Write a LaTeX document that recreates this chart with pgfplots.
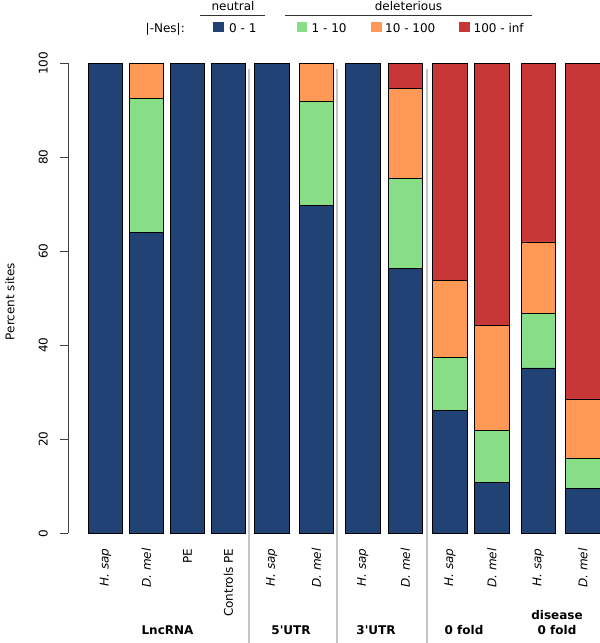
\documentclass[border=0pt]{standalone}
\usepackage{fontspec}
\setmainfont{DejaVu Sans}
\newfontfamily\nmfont{DejaVu Sans}
\usepackage{pgfplots}
\usepackage{pgfplotstable}
\pgfplotsset{compat=1.18}
\definecolor{cblue}{HTML}{204275}
\definecolor{cgreen}{HTML}{87DE87}
\definecolor{corange}{HTML}{FF9955}
\definecolor{cred}{HTML}{C83737}
\definecolor{sepgray}{HTML}{C4C4C4}
\newcommand{\fs}{\fontsize{12bp}{14bp}\selectfont}
\pgfplotstableread{
x blue green orange red
105.5 100 0 0 0
146.4 64.0 28.5 7.5 0
187.4 100 0 0 0
228.5 100 0 0 0
271.8 100 0 0 0
316.5 69.8 22.2 8.0 0
362.8 100 0 0 0
405.3 56.4 19.1 19.2 5.3
450.0 26.2 11.3 16.3 46.2
491.8 10.85 11.1 22.2 55.85
538.2 35.2 11.6 15.2 38.0
582.8 9.5 6.4 12.5 71.6
}\datatable
\begin{document}
\begin{tikzpicture}
\begin{axis}[
  scale only axis,
  width=532bp, height=470bp,
  xmin=68, xmax=600, ymin=0, ymax=100,
  enlargelimits=false,
  clip=false,
  ybar stacked, bar width=34.3,
  axis y line*=left,
  axis x line*=bottom,
  x axis line style={draw=none},
  y axis line style={black!75, line width=0.8bp},
  ytick={0,20,40,60,80,100},
  tick align=outside,
  ytick style={black!75, line width=0.8bp},
  major tick length=8bp,
  xtick style={draw=none},
  xtick={105.5,146.4,187.4,228.5,271.8,316.5,362.8,405.3,450.0,491.8,538.2,582.8},
  xticklabels={\textit{H. sap},\textit{D. mel},PE,Controls PE,\textit{H. sap},\textit{D. mel},\textit{H. sap},\textit{D. mel},\textit{H. sap},\textit{D. mel},\textit{H. sap},\textit{D. mel}},
  xticklabel style={rotate=90, anchor=east, inner sep=0pt, font=\fs},
  xticklabel shift=7bp,
  yticklabel style={rotate=90, anchor=south, inner sep=0pt, font=\fs},
  yticklabel shift=12bp,
  /pgf/number format/assume math mode=true,
  every axis plot/.append style={draw=black, line width=0.7bp},
]
\addplot[fill=cblue] table[x=x,y=blue]{\datatable};
\addplot[fill=cgreen] table[x=x,y=green]{\datatable};
\addplot[fill=corange] table[x=x,y=orange]{\datatable};
\addplot[fill=cred] table[x=x,y=red]{\datatable};
% separators
\draw[sepgray, line width=2bp] (axis cs:249,98.7) -- (axis cs:249,-23.34);
\draw[sepgray, line width=2bp] (axis cs:337,98.7) -- (axis cs:337,-23.34);
\draw[sepgray, line width=2bp] (axis cs:426.7,98.7) -- (axis cs:426.7,-23.34);
% y label
\node[rotate=90, font=\fs] at (axis cs:10,49.3) {Percent sites};
% group labels
\node[anchor=base, font=\fs\nmfont\bfseries] at (axis cs:167.5,-21.6) {LncRNA};
\node[anchor=base, font=\fs\nmfont\bfseries] at (axis cs:291,-21.6) {5'UTR};
\node[anchor=base, font=\fs\nmfont\bfseries] at (axis cs:376,-21.6) {3'UTR};
\node[anchor=base, font=\fs\nmfont\bfseries] at (axis cs:464,-21.6) {0 fold};
\node[anchor=base, font=\fs\nmfont\bfseries] at (axis cs:557,-18.4) {disease};
\node[anchor=base, font=\fs\nmfont\bfseries] at (axis cs:557,-21.6) {0 fold};
% legend
\node[anchor=base, font=\fs] at (axis cs:233,111.2) {neutral};
\node[anchor=base, font=\fs] at (axis cs:408.5,111.2) {deleterious};
\draw[black!80, line width=0.8bp] (axis cs:200,110.1) -- (axis cs:265,110.1);
\draw[black!80, line width=0.8bp] (axis cs:285.5,110.1) -- (axis cs:532,110.1);
\node[anchor=base east, inner sep=0pt, font=\fs] at (axis cs:185,106.66) {|-Nes|:};
\fill[cblue] (axis cs:213.3,106.66) rectangle (axis cs:224.3,108.87);
\node[anchor=base west, inner sep=0pt, font=\fs] at (axis cs:229,106.66) {0 - 1};
\fill[cgreen] (axis cs:296.6,106.66) rectangle (axis cs:307.3,108.87);
\node[anchor=base west, inner sep=0pt, font=\fs] at (axis cs:311.5,106.66) {1 - 10};
\fill[corange] (axis cs:371.2,106.66) rectangle (axis cs:382,108.87);
\node[anchor=base west, inner sep=0pt, font=\fs] at (axis cs:385,106.66) {10 - 100};
\fill[cred] (axis cs:459.2,106.66) rectangle (axis cs:470,108.87);
\node[anchor=base west, inner sep=0pt, font=\fs] at (axis cs:473.5,106.66) {100 - inf};
\coordinate (bbA) at (axis cs:0,113.47);
\coordinate (bbB) at (axis cs:600,-23.34);
\end{axis}
\pgfresetboundingbox
\useasboundingbox (bbA) rectangle (bbB);
\end{tikzpicture}
\end{document}
